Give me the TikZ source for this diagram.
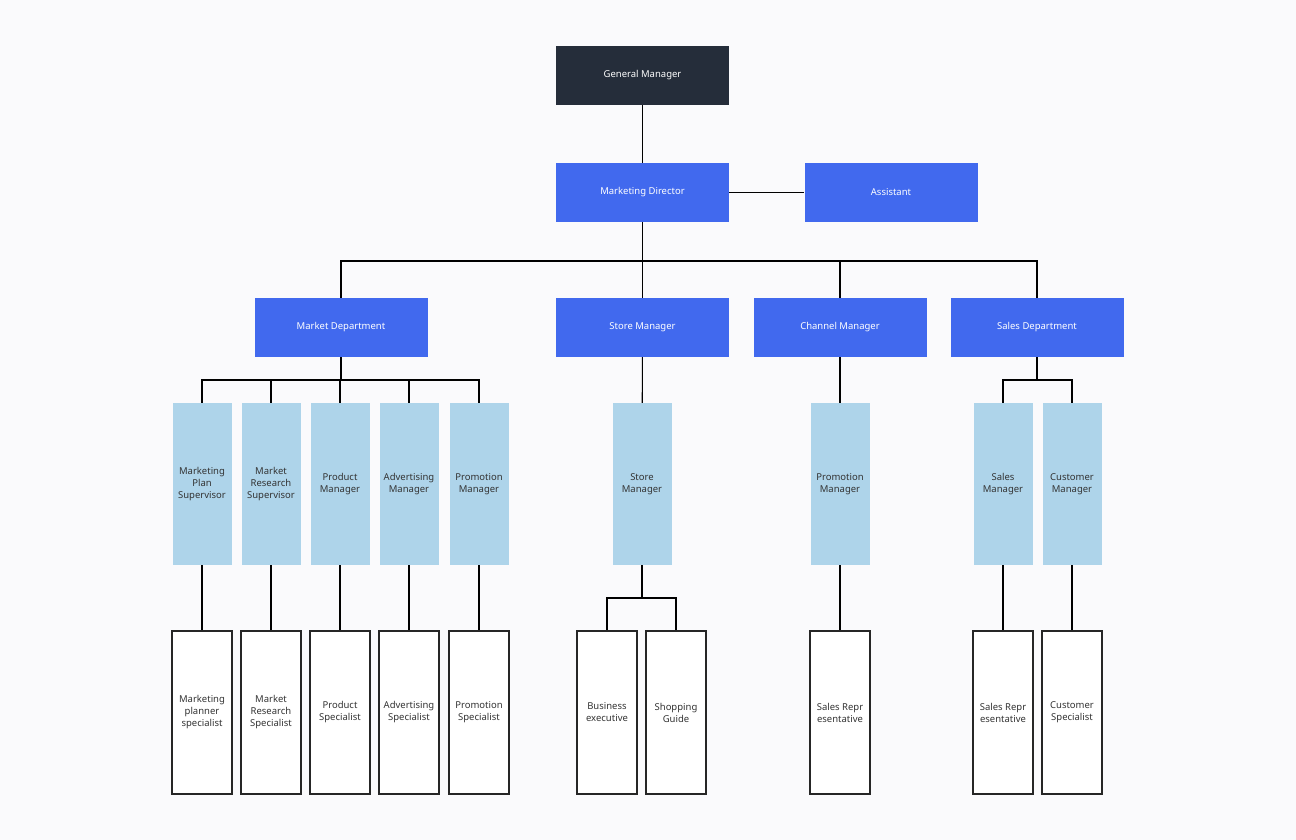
\documentclass[tikz,border=0pt]{standalone}
\usepackage{fontspec}
\setmainfont{Noto Sans}
\begin{document}
\begin{tikzpicture}[x=1pt,y=-1pt,
  every node/.style={font=\fontsize{9.5}{12}\selectfont,align=center,inner sep=0pt},
  dark/.style={fill=black!82!blue!60!gray,text=white,minimum width=173pt,minimum height=59pt},
  blue/.style={fill=royal,text=white,minimum width=173pt,minimum height=59pt},
  lb/.style={fill=lightb,text=black!80,minimum width=59pt,minimum height=162pt},
  wb/.style={draw=black!85,line width=1.6pt,fill=white,text=black!80,minimum width=60pt,minimum height=163pt},
  ln/.style={draw=black,line width=1.1pt}]
\definecolor{royal}{HTML}{4169EE}
\definecolor{lightb}{HTML}{AED4EA}
\fill[fill={rgb,255:red,250;green,250;blue,252}] (0,0) rectangle (1296,840);
\useasboundingbox (0,0) rectangle (1296,840);
\colorlet{dk}{black}
\node[fill={rgb,255:red,37;green,45;blue,58},text=white,minimum width=173pt,minimum height=59pt] (gm) at (642.5,75.5) {General Manager};
\node[blue] (md) at (642.5,192.5) {Marketing Director};
\node[blue] (as) at (891,192.5) {Assistant};
\node[blue] (mkt) at (341,327.5) {Market Department};
\node[blue] (sm) at (642.5,327.5) {Store Manager};
\node[blue] (cm) at (840,327.5) {Channel Manager};
\node[blue] (sd) at (1037,327.5) {Sales Department};
\coordinate (bus) at (642.5,261);
\draw[ln] (gm) -- (md);
\draw[ln] (md) -- (as);
\draw[ln] (md) -- (bus);
\draw[ln] (bus) -| (mkt);
\draw[ln] (bus) -| (sd);
\draw[ln] (bus) -- (sm);
\draw[ln] (bus) -| (cm);
% light blue
\foreach \n/\x/\t in {l1/202/Marketing\\Plan\\Supervisor, l2/271/Market\\Research\\Supervisor, l3/340/Product\\Manager, l4/409/Advertising\\Manager, l5/479/Promotion\\Manager, l6/642/Store\\Manager, l7/840/Promotion\\Manager, l8/1003/Sales\\Manager, l9/1072/Customer\\Manager}
  \node[lb] (\n) at (\x,484) {\t};
\foreach \n/\x/\t in {w1/202/Marketing\\planner\\specialist, w2/271/Market\\Research\\Specialist, w3/340/Product\\Specialist, w4/409/Advertising\\Specialist, w5/479/Promotion\\Specialist, w6/607/Business\\executive, w7/676/Shopping\\Guide, w8/840/Sales Repr\\esentative, w9/1003/Sales Repr\\esentative, w10/1072/Customer\\Specialist}
  \node[wb] (\n) at (\x,712.5) {\t};
\coordinate (mb) at (341,380);
\draw[ln] (mkt) -- (mb);
\foreach \n in {l1,l2,l3,l4,l5} \draw[ln] (mb) -| (\n);
\draw[ln] (sm) -- (l6);
\draw[ln] (cm) -- (l7);
\coordinate (sb) at (1037,380);
\draw[ln] (sd) -- (sb);
\draw[ln] (sb) -| (l8);
\draw[ln] (sb) -| (l9);
\foreach \a/\b in {l1/w1,l2/w2,l3/w3,l4/w4,l5/w5,l7/w8,l8/w9,l9/w10} \draw[ln] (\a) -- (\b);
\coordinate (stb) at (642,598);
\draw[ln] (l6) -- (stb);
\draw[ln] (stb) -| (w6);
\draw[ln] (stb) -| (w7);
\end{tikzpicture}
\end{document}
